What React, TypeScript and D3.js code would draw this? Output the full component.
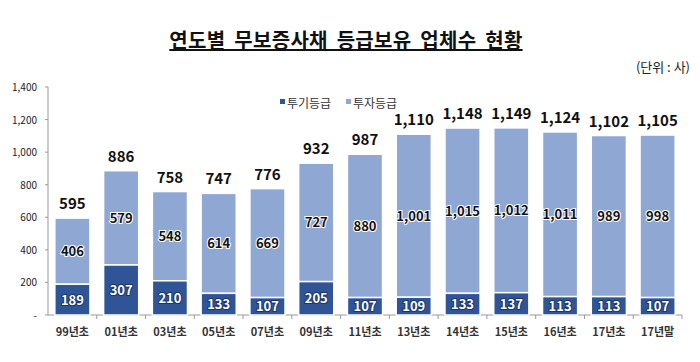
import { scaleBand, scaleLinear, format } from 'd3'

const categories = ['99년초', '01년초', '03년초', '05년초', '07년초', '09년초', '11년초', '13년초', '14년초', '15년초', '16년초', '17년초', '17년말']
const speculative = [189, 307, 210, 133, 107, 205, 107, 109, 133, 137, 113, 113, 107]
const investment = [406, 579, 548, 614, 669, 727, 880, 1001, 1015, 1012, 1011, 989, 998]
const yTicks = [0, 200, 400, 600, 800, 1000, 1200, 1400]
const seriesNames = ['투기등급', '투자등급']

const W = 700
const H = 362
const left = 48
const right = 682
const top = 87
const bottom = 315

const DARK = '#2f5597'
const LIGHT = '#8ea7d3'
const FONT = '"Noto Sans CJK KR", "Malgun Gothic", sans-serif'

export default function App() {
  const x = scaleBand<string>().domain(categories).range([left, right]).paddingInner(0.28).paddingOuter(0.14)
  const y = scaleLinear().domain([0, 1400]).range([bottom, top])
  const fmt = format(',')
  const step = x.step()

  return (
    <div style={{ position: 'absolute', left: 0, top: 0 }}>
      <svg width={W} height={H} style={{ display: 'block', background: '#fff' }} fontFamily={FONT}>
        {/* title */}
        <text x={346} y={48} textAnchor="middle" fontSize={20} fontWeight={700} fill="#111"
          textDecoration="underline" letterSpacing={0.3} wordSpacing={4}>
          연도별 무보증사채 등급보유 업체수 현황
        </text>
        <text x={690} y={72} textAnchor="end" fontSize={13} fill="#222">(단위 : 사)</text>

        {/* legend */}
        <g fontSize={12} fill="#333">
          <rect x={280} y={99} width={5} height={5} fill={DARK} />
          <text x={287} y={108}>{seriesNames[0]}</text>
          <rect x={346} y={99} width={5} height={5} fill={LIGHT} />
          <text x={353} y={108}>{seriesNames[1]}</text>
        </g>

        {/* y axis */}
        <line x1={left} x2={left} y1={top} y2={bottom} stroke="#999" />
        {yTicks.map((t) => (
          <g key={t}>
            <line x1={left - 3} x2={left} y1={y(t)} y2={y(t)} stroke="#999" />
            <text x={37} y={y(t) + 4} textAnchor="end" fontSize={10} fill="#222">
              {t === 0 ? '-' : fmt(t)}
            </text>
          </g>
        ))}

        {/* x axis */}
        <line x1={left} x2={right} y1={bottom} y2={bottom} stroke="#999" />
        {categories.map((_, i) => (
          <line key={i} x1={left + step * (i + 1)} x2={left + step * (i + 1)} y1={bottom} y2={bottom + 4} stroke="#999" />
        ))}
        {categories.map((c) => (
          <text key={c} x={(x(c) ?? 0) + x.bandwidth() / 2} y={336} textAnchor="middle" fontSize={11} fontWeight={700} fill="#333">
            {c}
          </text>
        ))}

        {/* bars */}
        {categories.map((c, i) => {
          const bx = x(c) ?? 0
          const bw = x.bandwidth()
          const cx = bx + bw / 2
          const s = speculative[i]
          const v = investment[i]
          const total = s + v
          return (
            <g key={c}>
              <rect x={bx} y={y(total)} width={bw} height={y(s) - y(total)} fill={LIGHT} stroke="#fff" strokeWidth={1.5} />
              <rect x={bx} y={y(s)} width={bw} height={y(0) - y(s)} fill={DARK} stroke="#fff" strokeWidth={1.5} />
              <text x={cx} y={(y(s) + y(0)) / 2 + 5} textAnchor="middle" fontSize={13} fontWeight={700} fill="#fff"
                stroke="#1c3566" strokeWidth={2} paintOrder="stroke">
                {s}
              </text>
              <text x={cx} y={(y(total) + y(s)) / 2 + 5} textAnchor="middle" fontSize={13} fontWeight={700} fill="#111"
                stroke="#fff" strokeWidth={2} paintOrder="stroke">
                {fmt(v)}
              </text>
              <text x={cx} y={y(total) - 9} textAnchor="middle" fontSize={15} fontWeight={700} fill="#111">
                {fmt(total)}
              </text>
            </g>
          )
        })}
      </svg>
    </div>
  )
}
